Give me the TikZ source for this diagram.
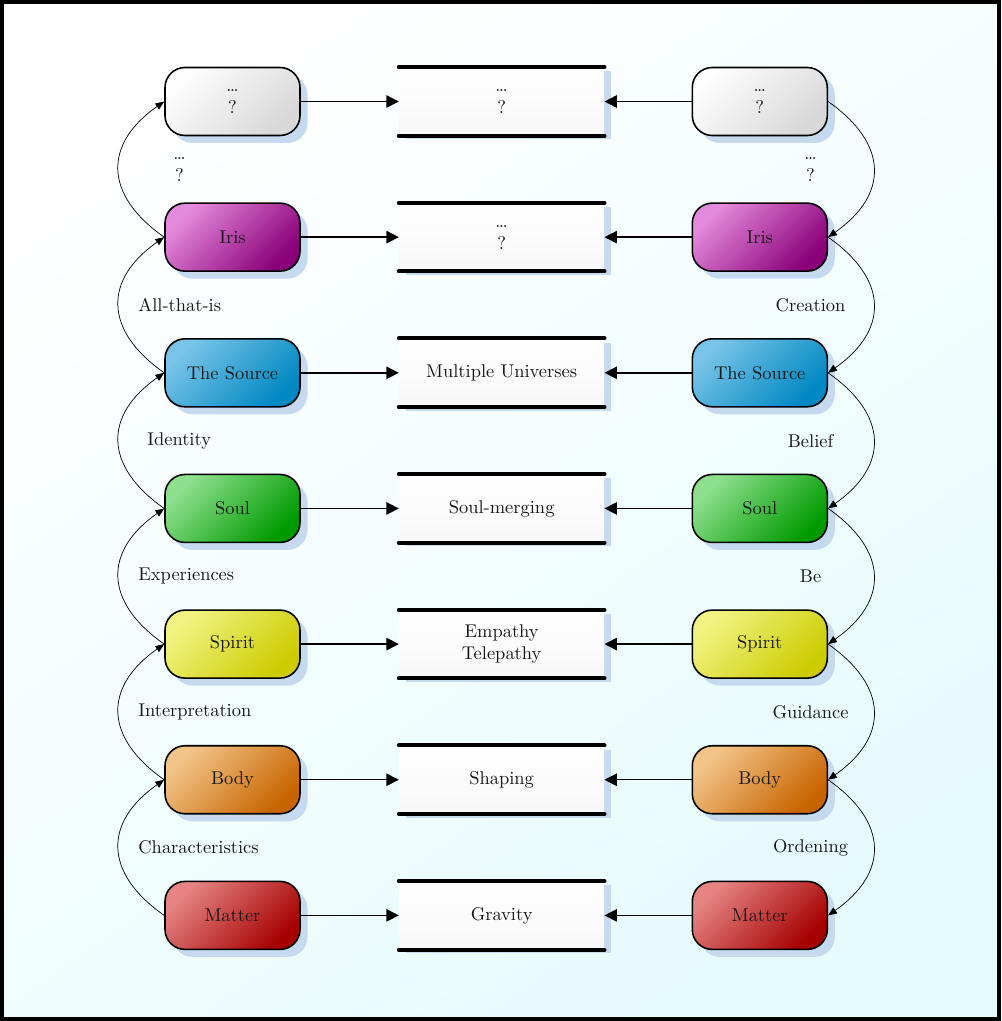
\documentclass[tikz,border=0pt]{standalone}
\usepackage{tikz}
\usetikzlibrary{positioning, shadows, arrows.meta}

\definecolor{shadowblue}{HTML}{C6DAEF}
\definecolor{textgray}{HTML}{161616}
\definecolor{bgcyan}{HTML}{E6FBFC}

\definecolor{grayl}{HTML}{FDFDFD}\definecolor{graym}{HTML}{EBEBEB}\definecolor{grayd}{HTML}{D8D8D8}
\definecolor{irisl}{HTML}{E48ADC}\definecolor{irism}{HTML}{A2148E}\definecolor{irisd}{HTML}{8A0078}
\definecolor{sourcel}{HTML}{78C4E8}\definecolor{sourcem}{HTML}{1A98CC}\definecolor{sourced}{HTML}{0088C2}
\definecolor{soull}{HTML}{8EE08E}\definecolor{soulm}{HTML}{10A810}\definecolor{sould}{HTML}{009A00}
\definecolor{spiritl}{HTML}{F2F282}\definecolor{spiritm}{HTML}{DCDC18}\definecolor{spiritd}{HTML}{CCCC00}
\definecolor{bodyl}{HTML}{F2C488}\definecolor{bodym}{HTML}{DA8224}\definecolor{bodyd}{HTML}{C86400}
\definecolor{matterl}{HTML}{E68484}\definecolor{matterm}{HTML}{BC1010}\definecolor{matterd}{HTML}{A60000}

\tikzstyle{level} = [rectangle, rounded corners=0.4cm, minimum width=2.7cm, minimum height=1.36cm, text centered, align=center, draw=black, line width=0.9pt, text=textgray, font=\fontsize{10.5}{12.5}\selectfont, drop shadow={shadow xshift=0.15cm, shadow yshift=-0.15cm, fill=shadowblue, opacity=1}]
\tikzstyle{result} = [rectangle, minimum width=4.1cm, minimum height=1.36cm, align=center, top color=white, bottom color=black!3, text=textgray, font=\fontsize{10.5}{12.5}\selectfont, drop shadow={shadow xshift=0.14cm, shadow yshift=-0.08cm, fill=shadowblue, opacity=1}]
\tikzstyle{rule} = [line width=0.08cm, line cap=round]
\tikzstyle{arrow} = [line width=0.8pt, -{Triangle[length=7pt,width=7pt]}]
\tikzstyle{bendarrow} = [line width=0.4pt, -{Triangle[length=5pt,width=4pt]}, bend left=55, looseness=1.4]
\tikzstyle{leftlabel} = [anchor=west, xshift=0.27cm, align=center, text=textgray, font=\fontsize{10.5}{12.5}\selectfont]
\tikzstyle{rightlabel} = [xshift=-1.26cm, align=center, text=textgray, font=\fontsize{10.5}{12.5}\selectfont]

\tikzstyle{grayfill} = [top color=grayl, middle color=graym, bottom color=grayd, shading angle=45]
\tikzstyle{irisfill} = [top color=irisl, middle color=irism, bottom color=irisd, shading angle=45]
\tikzstyle{sourcefill} = [top color=sourcel, middle color=sourcem, bottom color=sourced, shading angle=45]
\tikzstyle{soulfill} = [top color=soull, middle color=soulm, bottom color=sould, shading angle=45]
\tikzstyle{spiritfill} = [top color=spiritl, middle color=spiritm, bottom color=spiritd, shading angle=45]
\tikzstyle{bodyfill} = [top color=bodyl, middle color=bodym, bottom color=bodyd, shading angle=45]
\tikzstyle{matterfill} = [top color=matterl, middle color=matterm, bottom color=matterd, shading angle=45]

\begin{document}
\begin{tikzpicture}[node distance=2.713cm]

% frame and background
\useasboundingbox (0,0) rectangle (20.02,-20.42);
\shade [top color=white, bottom color=bgcyan, shading angle=35] (0,0) rectangle (20.02,-20.42);
\draw [line width=0.08cm] (0.04,-0.04) rectangle (19.98,-20.38);

% left column
\node (ltop) [level, grayfill] at (4.65,-2.03) {\ldots\\?};
\node (liris) [level, irisfill, below of=ltop] {Iris};
\node (lsource) [level, sourcefill, below of=liris] {The Source};
\node (lsoul) [level, soulfill, below of=lsource] {Soul};
\node (lspirit) [level, spiritfill, below of=lsoul] {Spirit};
\node (lbody) [level, bodyfill, below of=lspirit] {Body};
\node (lmatter) [level, matterfill, below of=lbody] {Matter};

% middle column
\node (mtop) [result, right=1.96cm of ltop] {\ldots\\?};
\node (miris) [result, right=1.96cm of liris] {\ldots\\?};
\node (muniverse) [result, right=1.96cm of lsource] {Multiple Universes};
\node (mmerge) [result, right=1.96cm of lsoul] {Soul-merging};
\node (mempathy) [result, right=1.96cm of lspirit] {Empathy\\Telepathy};
\node (mshaping) [result, right=1.96cm of lbody] {Shaping};
\node (mgravity) [result, right=1.96cm of lmatter] {Gravity};

% right column
\node (rtop) [level, grayfill, right=1.74cm of mtop] {\ldots\\?};
\node (riris) [level, irisfill, right=1.74cm of miris] {Iris};
\node (rsource) [level, sourcefill, right=1.74cm of muniverse] {The Source};
\node (rsoul) [level, soulfill, right=1.74cm of mmerge] {Soul};
\node (rspirit) [level, spiritfill, right=1.74cm of mempathy] {Spirit};
\node (rbody) [level, bodyfill, right=1.74cm of mshaping] {Body};
\node (rmatter) [level, matterfill, right=1.74cm of mgravity] {Matter};

\foreach \m in {mtop, miris, muniverse, mmerge, mempathy, mshaping, mgravity} {
  \draw [rule] (\m.north west) -- (\m.north east);
  \draw [rule] (\m.south west) -- (\m.south east);
}

\draw [arrow] (ltop) -- (mtop);
\draw [arrow] (liris) -- (miris);
\draw [arrow] (lsource) -- (muniverse);
\draw [arrow] (lsoul) -- (mmerge);
\draw [arrow] (lspirit) -- (mempathy);
\draw [arrow] (lbody) -- (mshaping);
\draw [arrow] (lmatter) -- (mgravity);

\draw [arrow] (rtop) -- (mtop);
\draw [arrow] (riris) -- (miris);
\draw [arrow] (rsource) -- (muniverse);
\draw [arrow] (rsoul) -- (mmerge);
\draw [arrow] (rspirit) -- (mempathy);
\draw [arrow] (rbody) -- (mshaping);
\draw [arrow] (rmatter) -- (mgravity);

% upward chain on the left
\draw [bendarrow] (liris.west) to node[leftlabel, xshift=0.7cm] {\ldots\\?} (ltop.west);
\draw [bendarrow] (lsource.west) to node[leftlabel] {All-that-is} (liris.west);
\draw [bendarrow] (lsoul.west) to node[leftlabel, xshift=0.18cm] {Identity} (lsource.west);
\draw [bendarrow] (lspirit.west) to node[leftlabel] {Experiences} (lsoul.west);
\draw [bendarrow] (lbody.west) to node[leftlabel] {Interpretation} (lspirit.west);
\draw [bendarrow] (lmatter.west) to node[leftlabel] {Characteristics} (lbody.west);

% downward chain on the right
\draw [bendarrow] (rtop.east) to node[rightlabel] {\ldots\\?} (riris.east);
\draw [bendarrow] (riris.east) to node[rightlabel] {Creation} (rsource.east);
\draw [bendarrow] (rsource.east) to node[rightlabel] {Belief} (rsoul.east);
\draw [bendarrow] (rsoul.east) to node[rightlabel] {Be} (rspirit.east);
\draw [bendarrow] (rspirit.east) to node[rightlabel] {Guidance} (rbody.east);
\draw [bendarrow] (rbody.east) to node[rightlabel] {Ordening} (rmatter.east);

\end{tikzpicture}
\end{document}
